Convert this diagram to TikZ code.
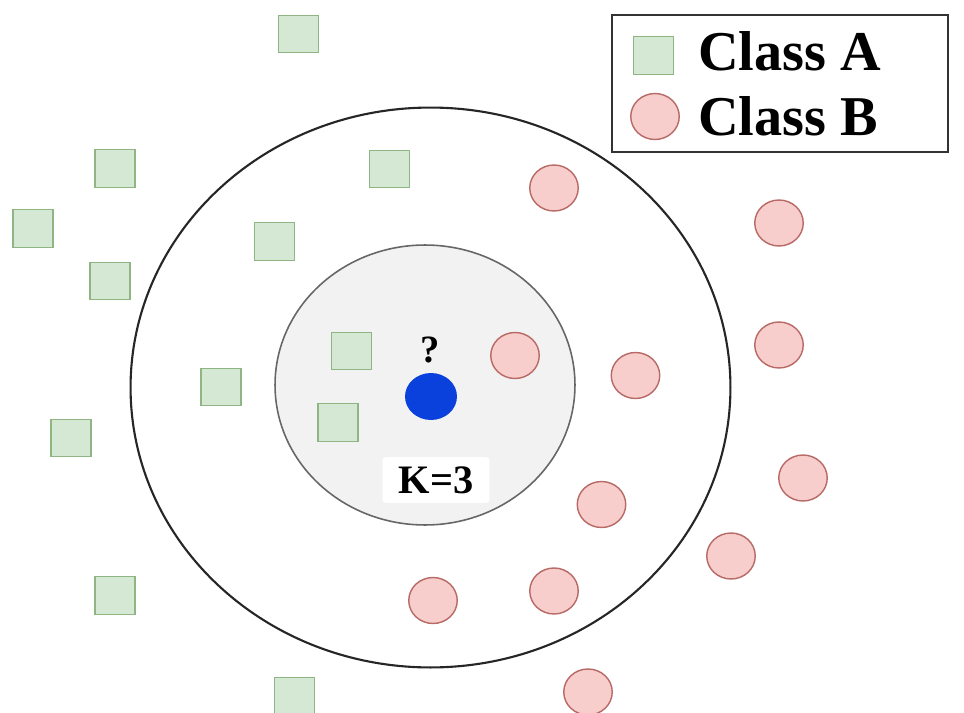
\documentclass[tikz,border=0pt]{standalone}
\usepackage{fontspec}
\setmainfont{Liberation Serif}
\usetikzlibrary{shapes.geometric}
\definecolor{agreen}{HTML}{D5E8D4}
\definecolor{agreenline}{HTML}{8FB585}
\definecolor{bred}{HTML}{F8CECC}
\definecolor{bredline}{HTML}{B86A66}
\definecolor{qblue}{HTML}{0A40DC}
\definecolor{innerfill}{HTML}{F2F2F2}
\tikzset{
  sqA/.style={rectangle, draw=agreenline, fill=agreen, line width=0.8pt, minimum width=0.8cm, minimum height=0.75cm, inner sep=0pt},
  ciB/.style={ellipse, draw=bredline, fill=bred, line width=0.8pt, minimum width=0.97cm, minimum height=0.92cm, inner sep=0pt},
  legtext/.style={font=\bfseries\fontsize{32}{36}\selectfont, anchor=west, inner sep=0pt},
}
\begin{document}
\begin{tikzpicture}[x=0.02cm, y=-0.02cm]
\useasboundingbox (0,0) rectangle (964,713);
\fill[white] (0,0) rectangle (964,713);
% big circles
\node[ellipse, draw=black!85, line width=1.2pt, minimum width=12cm, minimum height=11.2cm, inner sep=0pt] (outer) at (430.5,387.5) {};
\node[ellipse, draw=black!60, fill=innerfill, line width=0.9pt, minimum width=6cm, minimum height=5.6cm, inner sep=0pt] (inner) at (425,385) {};
% class A squares
\node[sqA] (a1) at (298.5,34) {};
\node[sqA] (a2) at (115,168.5) {};
\node[sqA] (a3) at (389.5,169) {};
\node[sqA] (a4) at (33,228.5) {};
\node[sqA] (a5) at (274.5,241.5) {};
\node[sqA] (a6) at (110,281) {};
\node[sqA] (a7) at (351.5,351) {};
\node[sqA] (a8) at (221,387) {};
\node[sqA] (a9) at (338,422.5) {};
\node[sqA] (a10) at (71,438) {};
\node[sqA] (a11) at (115,595.5) {};
\node[sqA] (a12) at (294.5,696) {};
% class B circles
\node[ciB] (b1) at (554,188) {};
\node[ciB] (b2) at (779,223) {};
\node[ciB] (b3) at (515,355.5) {};
\node[ciB] (b4) at (779,345) {};
\node[ciB] (b5) at (635.5,375.5) {};
\node[ciB] (b6) at (803,478) {};
\node[ciB] (b7) at (601.5,504.5) {};
\node[ciB] (b8) at (731,556) {};
\node[ciB] (b9) at (554,591) {};
\node[ciB] (b10) at (433,600.5) {};
\node[ciB] (b11) at (588,692) {};
% query point
\node[ellipse, fill=qblue, minimum width=1.04cm, minimum height=0.94cm, inner sep=0pt] (q) at (431,396.5) {};
\node[font=\bfseries\fontsize{22}{24}\selectfont, inner sep=0pt] (qm) at (430,350) {?};
\node[fill=white, rounded corners=2pt, minimum width=2.14cm, minimum height=0.92cm, inner sep=0pt, font=\bfseries\fontsize{23}{26}\selectfont] (k) at (436,480) {K=3};
% legend
\node[draw=black!80, line width=1.1pt, fill=white, minimum width=6.72cm, minimum height=2.74cm, inner sep=0pt] (legend) at (780,83.5) {};
\node[sqA] (ls) at (653.5,55.5) {};
\node[ciB] (lc) at (655,116.5) {};
\node[legtext] (lta) at (698,51) {Class A};
\node[legtext] (ltb) at (698,116) {Class B};
\end{tikzpicture}
\end{document}
